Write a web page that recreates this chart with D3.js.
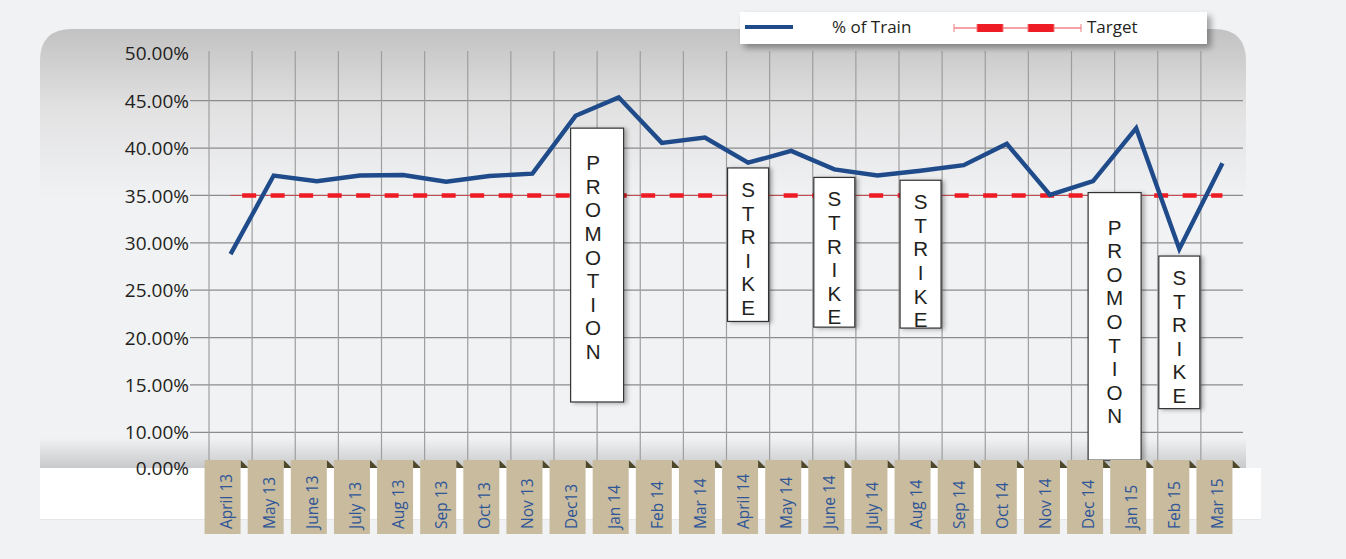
<!DOCTYPE html>
<html>
<head>
<meta charset="utf-8">
<script src="https://cdn.jsdelivr.net/npm/d3@7"></script>
<style>
  html, body { margin: 0; padding: 0; background: #f1f2f4; }
  svg { display: block; }
</style>
</head>
<body>
<svg id="chart" width="1346" height="559"></svg>
<script>
// ---------------- DATA ----------------
const categories = ["April 13","May 13","June 13","July 13","Aug 13","Sep 13","Oct 13","Nov 13","Dec13","Jan 14","Feb 14","Mar 14","April 14","May 14","June 14","July 14","Aug 14","Sep 14","Oct 14","Nov 14","Dec 14","Jan 15","Feb 15","Mar 15"];
const trainPct = [28.8, 37.1, 36.5, 37.1, 37.15, 36.45, 37.05, 37.3, 43.4, 45.35, 40.55, 41.1, 38.45, 39.7, 37.75, 37.1, 37.6, 38.2, 40.45, 35.05, 36.5, 42.1, 29.35, 38.4];
const targetPct = [35, 35, 35, 35, 35, 35, 35, 35, 35, 35, 35, 35, 35, 35, 35, 35, 35, 35, 35, 35, 35, 35, 35, 35];
const yTicks = [0, 10, 15, 20, 25, 30, 35, 40, 45, 50];
const gridValues = [10, 15, 20, 25, 30, 35, 40, 45];
const seriesNames = ["% of Train", "Target"];
const annotationTexts = ["PROMOTION", "STRIKE", "STRIKE", "STRIKE", "PROMOTION", "STRIKE"];
const annotationCats = [["Dec13","Jan 14"], ["April 14"], ["June 14"], ["Aug 14"], ["Dec 14","Jan 15"], ["Feb 15"]];
const annotationTop = [42.1, 37.9, 36.9, 36.6, 35.3, 28.6];
const annotationBottom = [13.2, 21.7, 21.1, 21.0, 2.2, 12.5];

// ---------------- LAYOUT ----------------
const svg = d3.select("#chart");
const defs = svg.append("defs");

const x = d3.scaleBand().domain(categories).range([209, 1244]).padding(0);
const cx = c => x(c) + x.bandwidth() / 2;
const y = d3.scaleLinear().domain([0, 10, 50]).range([468, 432.3, 53.3]);

// gradients & filters
const pg = defs.append("linearGradient").attr("id", "panelGrad")
  .attr("gradientUnits", "userSpaceOnUse").attr("x1", 0).attr("y1", 29).attr("x2", 0).attr("y2", 468);
[[29, "#c2c2c2"], [110, "#e2e2e3"], [200, "#f1f2f4"], [438, "#f1f2f4"], [468, "#c8c9cb"]].forEach(([o, c]) => {
  pg.append("stop").attr("offset", ((o - 29) / (468 - 29))).attr("stop-color", c);
});
const sh = defs.append("filter").attr("id", "shadow").attr("x", "-10%").attr("y", "-20%").attr("width", "130%").attr("height", "160%");
sh.append("feDropShadow").attr("dx", 4).attr("dy", 4).attr("stdDeviation", 3).attr("flood-color", "#000").attr("flood-opacity", 0.35);
const sh2 = defs.append("filter").attr("id", "boxShadow").attr("x", "-20%").attr("y", "-5%").attr("width", "150%").attr("height", "115%");
sh2.append("feDropShadow").attr("dx", 3).attr("dy", 1).attr("stdDeviation", 2).attr("flood-color", "#000").attr("flood-opacity", 0.3);

// panel (rounded top corners)
const px0 = 40, px1 = 1246, py0 = 29, py1 = 468, r = 32;
svg.append("path")
  .attr("d", `M${px0},${py1} L${px0},${py0 + r} Q${px0},${py0} ${px0 + r},${py0} L${px1 - r},${py0} Q${px1},${py0} ${px1},${py0 + r} L${px1},${py1} Z`)
  .attr("fill", "url(#panelGrad)");
// white strip under plot
svg.append("rect").attr("x", 40).attr("y", 468).attr("width", 1221).attr("height", 51).attr("fill", "#ffffff");
svg.append("rect").attr("x", 40).attr("y", 519).attr("width", 1221).attr("height", 1).attr("fill", "#e6e7e9");

// grid
const grid = svg.append("g");
grid.selectAll("line.h").data(gridValues).join("line")
  .attr("x1", 190).attr("x2", 1243)
  .attr("y1", d => y(d)).attr("y2", d => y(d))
  .attr("stroke", "#8c8c8c").attr("stroke-width", 1.2);
grid.selectAll("line.v").data(categories).join("line")
  .attr("x1", d => x(d)).attr("x2", d => x(d))
  .attr("y1", 51).attr("y2", 468)
  .attr("stroke", "#9e9e9e").attr("stroke-width", 1.2);

// y labels
svg.append("g").selectAll("text").data(yTicks).join("text")
  .attr("x", 189).attr("y", d => y(d) + 2)
  .attr("text-anchor", "end").attr("dominant-baseline", "middle")
  .attr("font-family", "'Open Sans', sans-serif").attr("font-size", 19)
  .attr("fill", "#231f20")
  .text(d => d.toFixed(2) + "%");

// target line
const line = d3.line().x((d, i) => cx(categories[i])).y(d => y(d));
svg.append("path").datum(targetPct).attr("d", line)
  .attr("fill", "none").attr("stroke", "#c8494e").attr("stroke-width", 1);
svg.append("path").datum(targetPct).attr("d", line)
  .attr("fill", "none").attr("stroke", "#ee1c25").attr("stroke-width", 4.5)
  .attr("stroke-dasharray", "14 14.5").attr("stroke-dashoffset", 16.9);

// train line
svg.append("path").datum(trainPct).attr("d", line)
  .attr("fill", "none").attr("stroke", "#1f4b8b").attr("stroke-width", 4.4)
  .attr("stroke-linejoin", "miter").attr("stroke-linecap", "butt");

// annotations (stacked vertical letters)
const ann = svg.append("g");
annotationTexts.forEach((t, i) => {
  const isPromo = t === "PROMOTION";
  const w = isPromo ? 53 : 41;
  const cxx = d3.mean(annotationCats[i], c => cx(c));
  const top = y(annotationTop[i]), bot = y(annotationBottom[i]);
  const g = ann.append("g");
  g.append("rect").attr("x", cxx - w / 2).attr("y", top).attr("width", w).attr("height", bot - top)
    .attr("fill", "#ffffff").attr("stroke", "#333333").attr("stroke-width", 1.2)
    .attr("filter", "url(#boxShadow)");
  const pad = isPromo ? 34 : 21;
  const tx = cxx + (isPromo && i === 0 ? -4 : 0);
  const txt = g.append("text")
    .attr("text-anchor", "middle").attr("dominant-baseline", "central")
    .attr("font-family", "'Liberation Sans', Arial, sans-serif").attr("font-size", 20.6)
    .attr("fill", "#231f20");
  txt.selectAll("tspan").data(t.split("")).join("tspan")
    .attr("x", tx)
    .attr("y", (d, k) => top + pad + k * 23.6)
    .text(d => d);
});

// x labels (tan tags)
const tags = svg.append("g");
const tagW = 36, tagTop = 460, tagBot = 534;
categories.forEach(c => {
  const mid = cx(c) - 8;
  const left = mid - tagW / 2, right = mid + tagW / 2;
  tags.append("path")
    .attr("d", `M${right},${tagTop} L${right + 8},${tagTop + 8} L${right},${tagTop + 8} Z`)
    .attr("fill", "#4e4729");
  tags.append("rect").attr("x", left).attr("y", tagTop).attr("width", tagW).attr("height", tagBot - tagTop)
    .attr("fill", "#c8bb9e");
  tags.append("text")
    .attr("transform", `translate(${mid + 3},${tagBot - 5}) rotate(-90)`)
    .attr("dominant-baseline", "central")
    .attr("font-family", "'Open Sans', sans-serif").attr("font-size", 15.5)
    .attr("fill", "#2e5597")
    .text(c);
});

// legend
const lg = svg.append("g");
lg.append("rect").attr("x", 740).attr("y", 12).attr("width", 467).attr("height", 32)
  .attr("fill", "#ffffff").attr("filter", "url(#shadow)");
lg.append("line").attr("x1", 745).attr("x2", 793).attr("y1", 27).attr("y2", 27)
  .attr("stroke", "#1f4b8b").attr("stroke-width", 4);
lg.append("text").attr("x", 832).attr("y", 28).attr("dominant-baseline", "middle")
  .attr("font-family", "'Open Sans', sans-serif").attr("font-size", 17).attr("fill", "#231f20")
  .text(seriesNames[0]);
lg.append("line").attr("x1", 954).attr("x2", 1081).attr("y1", 28).attr("y2", 28)
  .attr("stroke", "#e8474d").attr("stroke-width", 1);
[977, 1028].forEach(s => {
  lg.append("rect").attr("x", s).attr("y", 24).attr("width", 26).attr("height", 8).attr("fill", "#ee1c25");
});
[954, 977, 1003, 1028, 1054, 1081].forEach(s => {
  lg.append("line").attr("x1", s).attr("x2", s).attr("y1", 24).attr("y2", 32)
    .attr("stroke", "#f07a7e").attr("stroke-width", 1);
});
lg.append("text").attr("x", 1087).attr("y", 28).attr("dominant-baseline", "middle")
  .attr("font-family", "'Open Sans', sans-serif").attr("font-size", 17).attr("fill", "#231f20")
  .text(seriesNames[1]);
</script>
</body>
</html>
